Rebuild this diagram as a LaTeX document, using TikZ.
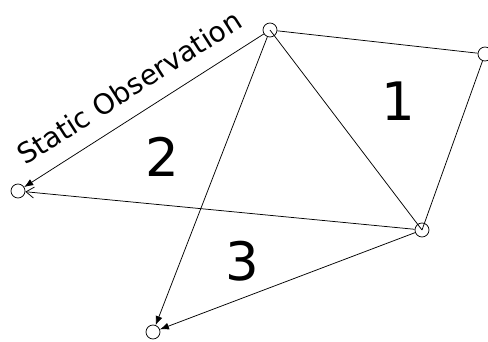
\documentclass[tikz,border=0pt]{standalone}
\usepackage{fontspec}
\setmainfont{DejaVu Sans}
\usetikzlibrary{arrows.meta, positioning}

\begin{document}
\begin{tikzpicture}[x=1pt, y=-1pt, line width=0.75pt,
  station/.style={draw, circle, minimum size=14pt, inner sep=0pt},
  region/.style={font=\fontsize{53}{60}\selectfont},
  obs/.style={-{Latex[length=9pt, width=7pt]}},
  openobs/.style={-{Straight Barb[length=8pt, width=11pt]}}]
  \useasboundingbox (0,0) rectangle (488,341);

  \node[station] (top) at (270,30) {};
  \node[station] (right) at (485,54) {};
  \node[station] (low) at (422,230) {};
  \node[station] (left) at (18,191) {};
  \node[station] (bottom) at (153,332) {};

  \node[region] (r1) at (398,101) {1};
  \node[region] (r2) at (162,157) {2};
  \node[region] (r3) at (242,261) {3};

  \draw (top) -- (right);
  \draw (top.center) -- (low.center);
  \draw (right) -- (low.center);

  \draw[obs] (top) -- node[sloped, above=13pt, pos=0.5, font=\fontsize{28}{32}\selectfont]
    {Static Observation} (left);
  \draw[obs] (top) -- (bottom);
  \draw[openobs] (low) -- (left);
  \draw[obs] (low) -- (bottom);
\end{tikzpicture}
\end{document}
